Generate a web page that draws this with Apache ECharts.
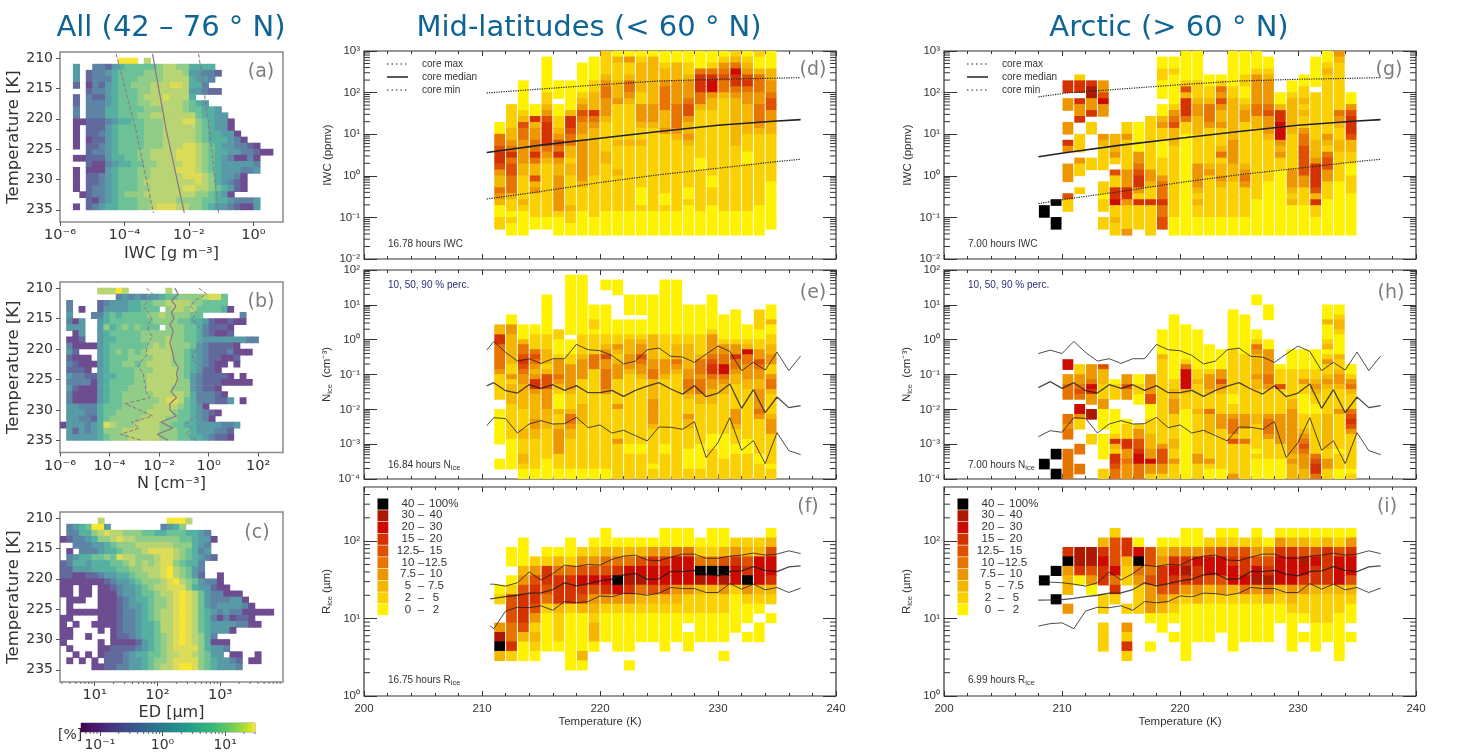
<!DOCTYPE html>
<html><head><meta charset="utf-8"><title>Ice cloud statistics</title>
<style>html,body{margin:0;padding:0;background:#fff}#c{width:1457px;height:752px}</style>
<script src="https://cdn.jsdelivr.net/npm/echarts@6/dist/echarts.min.js"></script></head>
<body><div id="c"></div>
<script>
// ---------- DATA ----------
// Cells: '.'=empty, digits = colour class, "cxN" = c repeated N times.
const allIwcRows=[
".x9 9 9 9 . 7 .x19",
"..3.. 22134 55555 67766 4444. .x8",
"..3.1 22345 55566 67776 33221 .x8",
"..3.1 22245 55666 67777 4332. .x8",
"..1.0 21345 56667 77887 442.. .x8",
"....1 22345 55667 77777 33211 .x8",
"..1.2 11345 55677 78777 4.... .x8",
"..1.2 22345 55667 77776 543.. .x8",
"..2.2 22445 55566 67776 55443 .x8",
"..2.2 22445 55667 77777 75443 3 .x7",
"..001 11234 45566 67778 86543 30 .x6",
"..0.1 11345 55566 67777 76543 30 .x6",
"..0.1 12345 55566 67777 76544 330 .x5",
"..0.0 11345 55566 67777 76544 4320 .x4",
"..0.1 12345 55566 67778 87654 332210 .x2",
"....1 22345 55667 77788 87654 43322100",
"..001 11344 55667 77788 87654 32 0 0 2 0 .x2",
"....1 00234 45566 77778 87654 333332 .x2",
"..0.0 00345 55667 77788 87654 333223 .x2",
"..0.1 12345 55667 77778 88764 3320 .x4",
"..0.1 12345 55677 77777 78764 3210 .x4",
"..0.1 22345 55667 77778 87765 4310 .x4",
"...01 22345 66677 77777 76654 30 .x6",
"....1 02345 55667 77766 66554 432223 .x2",
"..0.1 23445 55667 88877 66543 321003 .x2"];
const allNRows=[
".x6 7 7 7 9 7 .x6 7 .x18",
".x9 2 3 2 3 2 3 3 4 5 5 6 6 6 6 7 8 8 5 .x9",
". 2 .x4 1 2 3 3 3 4 4 5 5 6 6 7 7 7 7 6 6 5 5 5 5 .x9",
". 2 . 0 . . 1 3 3 3 3 4 4 5 5 5 . 6 7 7 6 7 5 5 5 5 4 0 .x8",
". 3 . . . 2 2 4 5 4 5 5 5 5 6 6 7 6 6 6 6 5 5 .x6 2 .x6",
". 2 0 3 . . 3 4 5 5 5 5 5 5 5 6 6 6 6 5 5 4 4 3 1 0 0 1 0 0 .x6",
". 3 3 3 . . 3 6 4 5 6 5 6 5 5 5 . 6 6 6 5 5 4 2 1 1 1 0 .x8",
". . 0 3 . . 3 4 5 5 5 5 5 6 6 6 6 6 6 6 5 5 4 2 1 0 0 1 .x8",
". 0 0 1 . . 3 4 4 5 5 5 5 6 6 6 6 7 6 6 5 5 4 3 3 3 3 3 3 3 2 2 .x4",
". 2 0 0 0 0 3 4 5 5 5 5 5 5 6 7 6 7 6 6 6 5 3 2 1 1 1 1 0 .x7",
". 3 1 . . . 3 4 5 6 5 6 5 6 7 7 7 7 6 6 5 4 3 2 1 1 1 2 0 0 0 .x5",
". 1 0 0 0 . 3 4 5 5 5 6 6 6 6 7 7 7 6 6 5 4 3 2 1 1 0 0 1 .x7",
". 2 1 0 0 0 3 4 5 5 6 6 5 6 7 7 7 7 6 6 5 4 3 2 1 0 0 . 0 .x7",
". 1 1 1 0 . 3 4 5 5 5 5 6 6 6 7 7 7 7 6 5 4 3 1 1 0 .x10",
". 3 2 2 1 1 3 4 4 5 5 5 6 6 7 7 7 7 7 6 5 3 2 1 1 1 1 0 . 0 .x6",
". 2 2 2 2 0 3 4 5 5 5 5 6 6 7 7 7 7 7 6 6 3 2 1 1 1 0 0 0 0 0 .x5",
". 3 1 0 0 0 3 4 5 5 5 6 6 6 7 7 7 7 6 6 6 3 2 1 1 0 .x10",
". 2 0 0 0 0 3 4 5 5 6 6 6 6 6 7 7 7 7 7 6 4 2 2 2 1 0 .x9",
". 2 0 0 0 0 3 4 5 5 6 6 6 6 6 6 7 8 8 7 5 4 2 2 2 1 1 3 . 0 .x6",
". 3 3 2 2 2 4 5 5 5 6 6 6 6 6 7 7 7 7 6 5 4 3 0 .x12",
". 3 3 3 2 2 4 5 5 6 6 6 6 6 7 7 7 7 6 5 5 4 3 2 1 0 .x10",
". 3 3 2 2 1 4 5 6 6 6 6 6 7 7 7 7 6 6 5 5 4 3 2 0 .x11",
"0 3 3 3 2 3 4 8 7 6 6 6 7 7 7 7 6 6 5 5 4 4 3 3 3 3 2 2 3 .x7",
". 3 1 3 2 3 4 6 6 6 7 7 7 7 7 7 6 6 6 5 5 4 3 3 3 2 2 1 .x8",
". 3 3 3 3 3 4 5 6 6 6 7 7 7 7 7 6 6 6 5 5 4 4 3 2 1 1 0 .x8"];
const allEdRows=[
".x6 7 .x10 9 9 9 7 .x15",
". 2 3 4 5 9 9 3 .x8 2 3 4 6 .x16",
". 2 2 4 4 6 7 8 7 7 6 6 6 5 5 4 4 5 5 5 4 4 3 2 .x12",
"0 1 2 2 3 4 6 6 7 8 7 7 6 6 6 6 6 6 6 5 5 4 3 3 0 .x11",
". . 2 2 2 3 3 4 5 6 6 6 7 7 7 7 7 7 6 6 6 4 3 2 .x12",
". 0 . 2 2 2 3 4 4 5 6 6 6 7 8 8 8 8 7 6 5 4 2 3 .x12",
". 2 3 4 4 5 5 6 5 8 7 7 6 6 6 7 8 8 7 6 5 4 3 2 1 .x11",
"1 2 4 4 3 4 4 4 5 5 6 7 6 7 6 7 8 8 6 5 4 4 2 .x13",
"1 1 3 3 3 4 4 4 4 5 5 6 6 7 7 7 8 9 7 6 5 3 2 .x13",
"1 1 0 0 1 1 2 3 3 4 4 5 6 6 7 7 8 9 7 6 5 3 1 . . 0 .x10",
"0 0 0 0 0 0 0 1 2 3 3 4 5 6 6 6 7 8 9 7 6 5 3 2 2 0 .x10",
"0 0 . 0 0 . 0 0 1 2 3 3 4 5 6 7 7 8 8 8 6 4 3 3 1 0 0 .x9",
"0 0 . 0 0 . 0 0 0 2 3 3 4 5 5 6 7 7 8 9 8 7 5 3 2 2 0 0 0 .x7",
". 0 0 0 . . 0 0 0 1 2 3 4 4 5 6 6 7 8 9 8 7 5 3 2 2 2 3 3 0 .x6",
". 0 . . . . 0 0 0 1 2 3 3 4 5 6 6 7 8 9 8 7 5 3 2 3 3 3 3 2 0 .x5",
". 0 0 0 0 0 0 0 0 1 2 2 3 4 5 6 7 7 8 9 8 7 5 4 3 2 3 2 2 0 0 0 0 0 .x2",
"0 0 . . . . 0 0 0 1 2 2 3 4 5 6 7 7 8 9 8 7 5 4 2 0 2 0 1 1 0 .x5",
"0 . 0 . . 0 0 0 0 1 2 2 3 4 4 5 7 7 8 9 8 7 5 4 3 3 3 3 2 2 0 0 .x4",
"0 0 . . . . 0 . 0 1 2 2 3 4 4 5 7 7 8 9 8 7 5 4 3 3 3 0 .x8",
"0 0 . . 0 . . . 0 1 1 2 3 4 4 5 6 7 8 9 8 7 6 4 2 .x11",
"0 . . . . . 0 . 0 0 0 0 1 3 4 5 6 7 8 9 8 7 6 4 0 0 0 .x9",
". 0 . . . . 0 0 1 1 1 1 2 3 4 5 6 7 8 8 8 8 6 4 3 3 2 .x9",
". . 0 . 0 . 0 1 1 1 2 3 4 4 5 5 6 7 7 8 8 7 6 5 3 3 . 0 0 . . 0 .x4",
". 0 . 0 . 0 . 1 1 1 2 3 3 4 5 6 6 7 8 8 8 8 6 5 4 3 3 2 1 . 0 0 .x4",
". . . . . 0 0 1 1 2 2 3 3 4 5 6 7 7 8 9 9 8 6 5 4 3 3 3 2 .x7"];

const midIwcCols=[
".x12 0 0 4 4 5 6 6 5 3 2 2 4 3 2 0 0 1 1 .",
".x9 1 1 1 1 2 2 3 4 6 4 5 5 4 4 4 2 1 1 0 1 0 0",
".x5 0 0 0 0 0 1 2 5 4 4 3 3 3 3 2 2 1 1 1 1 2 1 0 0 0 0",
".x9 0 0 6 2 3 3 4 4 6 4 2 2 5 2 3 1 1 1 1 0 0 .",
". 0x6 1 1 2 3 5 6 6 6 6 4 3 2 1x9 0 0 .",
".x5 0 0 0 . 0 0 1 1 2 3 5 4 6 3 2 2 3 3 3 3 3 3 1 0 0 0",
".x5 0x5 2 6 6 5 4 4 2 2 1 2 2 1 1 1 1 1 2 1 1 0 0",
".x2 0x5 1 2 3 5 4 3 3 2 3x7 2 1 1 1 1 0 0 0 0",
". 0 0 0 0 1 1 2 2 2 6 4 3 2x8 1x6 1 0 0 0 .",
"1 1 1 1 2 3 4 4 3 3 3 2 1x5 2 2 1x8 0 0 0 0",
"0 2 1 1 1 2 2 2 3 1x6 2 1x4 2 1x6 0 0 0 0",
"0 3 1 1 2 4 4 3 2 1x6 2 1x11 0 0 0 0",
"0 1 2 2 2 2 2 1 1 3 3 3 2 1 1 2 1x7 0 0 0 1 0 0 0 0",
"0 2x8 3 3 3 2 1x14 0 0 0 0",
"0 0 1 2 2 3 4 4 4 4 2 2 2 3 1x10 0 0 1 0 0 0 0",
"0 0 2 2 2 3 3 3 3 4 4 4 4 3 2 1x12 0x4",
"0 0 1 1 2 3 3 3 4 5 5 3 2 2 3 2 1x7 0 0 1 0x5",
"0 0 0 4 6 6 6 4 4 2 1x8 0 0 1x7 0 0 0 0",
"0 0 1 4 6 7 7 3 2 2 1x11 0 0 1 1 1 0x5",
"0 1 3 4 5 4 4 2 1x19 0 0 0 0",
"1 2 4 7 6 6 4 3 2x8 1x11 0 0 0 0",
"0 1 2 3 5 6 4 3 3 2 2 2 2 2 1 1 1 0 0 1x8 0 0 0 0",
"1 0 0 2 4 4 4 3 3 4 4 4 3 2 1x12 0x5",
"0 0 0 2 2 3 3 4 5 5 3 3 2 2 1x8 0x8 ."];
const midNiceCols=[
".x11 2 2 6 6 4 4 4 4 4 3 1 1 1 1 1 . . 0 0 0 0 0 0 0 .x3 0 0 . .",
".x9 0 0 3 3 2 2 2 2 2 2 1 1 3 1 2 2 2 2 1x7 0x6 . .",
".x11 0 0 0 2 4 4 5 6 5 4 3 3 2 2 2 2 2 1 1 1 1 2 2 1 1 1 2 2 1 0 0",
".x11 0 0 1 1 1 4 5 4 3 2 3 6 6 3 2 2 2 2 2 3 3 2 2 1x6 0 0",
".x5 0x8 1 1 1 2 2 2 1 2 5 5 5 3 3 3 3 2 2 2 2 1x6 0x4",
".x12 1 1 0 0 0 1 3 3 3 4 3 2 1 0 0 0 2 1 1 2 3 3 3 3 3 1 1 1 0 0",
". 0x12 . 0 0 0 1 1 3 3 3 3 3 2 1 1 1 2 4 4 3 2 2 1x6 0 0",
". 0x12 1 1 1 1 2 3 3 3 3 1x5 2 2 2 2 1x9 0 0",
".x7 0 0 0 1 1 0 1 1 1 1 4 4 4 1x20 0 0",
".x2 0 0 .x3 0x6 1 1 2 3 5 3 3 4 4 4 4 3 1x15 0 0",
".x2 0 0 0 .x5 0 0 0 1 1 3 2 1 2 3 3 3 1 1 1 1 1 3 1 1 1 1 1 1 3 1x7",
".x5 0 0 0 0 . 0 0 0 1 2 2 2 3 3 3 2 1x14 0 0 1x5",
".x5 0 0 0 0 . 0 0 0 1 2 3 3 5 4 3 3 2 1x13 0 0 1x5",
".x5 0x8 2x5 3 3 4 4 2 2 2 2 3x5 2 1x7 0 1 1",
".x2 0x11 1x5 3 3 3 2 1x13 0 0 1x5",
".x2 0x11 1 1 2 2 2 4 3 2 1x21",
".x7 0x6 1 1 2x5 3 3 4 4 3 2 1 1 1 3 2 2 1x4 0x4 1 1",
".x7 0x6 1x4 2 4 4 4 3 4 4 4 2 2 1x8 0 0 0 0 0 1 1",
".x5 0x7 1 3x4 4 5 6 6 4 3 3 2 2 2 1x6 0 0 0 1x6",
".x9 0x5 1 3 3 4 4 7 7 4 3 2 2 1x8 0x5 1x4",
".x8 0x6 1 3 3 6 4 4 3 2 2 1x5 3 3 3 2 1 1 1 0 0 1x5",
".x11 0 0 0 1 2 7 4 4 3 3 3 2 2 1x10 0 0 0 1x5",
".x8 1 1 1 1 0 0 1 1 3 3 5 4 3 3 2 2 3 3 3 3 4 3 1x7 0 0 1 1 1",
".x7 0 0 0 2 0 0 1 1 2 2 3 3 1 1 3 4 4 2 1 1 1 1 2 3 3 3 1x6 0 1 1"];
const midRiceCols=[
"......01..3892.","..00.015554461.",".0002356665200.","...13566531210.",
"..01665410000..","..02466621110..",".00146661000000","..1357652000020",
".013575321220..","002457631000...",".024697310000..",".024786310000.0",
".02578421000...",".03677521000...","0036775210000..","004777321000...",
"0047773110.00..",".01498211000...","001497211000...","002598311000.0.",
".1367710000....",".125693100.0...",".12777210.00...","02577621.0....."];

const arcticIwcCols=[
".x26 9 9 .x3",
".x25 9 . . 9 9 .",
".....66.33..33.63..333..511....",
"....166.6336..111.311..1.......",
".....688336.11....11...........",
".....335733...321111..11011.11.",
".x14 2 2 2 3 1 . 5 1 1 6 6 7 1 1 2 1 1",
".x12 1 1 3 1 1 1 1 1 3 3 3 6 6 3 1 1 1 1 3",
".x12 0 0 0 0 0 3 3 4 5 6 6 3 1 6 1 1 1 1 .",
".x11 1x9 3 3 2 1 1 6 1 1 1 1 1",
". 0 0 1 1 0 0 0 . 0 0 2 3 1 1 0 0 0 1 1 1 3 4 4 4 6 4 4 5 5 .",
". 0 0 1 0 0 0 0 0 1 3 4 5 2 2 2 1x12 0 0 0",
"0x5 1 5 2 6 6 6 4 1 1 0x17",
"0 0 0 0 0 1 1 1 2 3 3 2 2 2 1 1 1 1 1 3 3 3 3 2 1 2 1 1 0 0 0",
".x4 0 0 1 1 2 4 4 4 3 1x6 2 3 1x7 0 0 0",
".x4 0 1 4 3 5 3 2 2 3 1 1 1 2 4 1 2 2 3 2 1x5 0 0 0",
"0x6 1 1 2x7 3 3 3 3 2 2 2 1x6 0 0 0",
"0 0 0 0 1 1 0 0 1 2 3 3 1x7 2 3 4 3 1x5 0 0 0",
"0 0 0 1 3 3 3 3 3 4 4 2 2 1x12 0x6",
". 0 0 1 2 3 3 3 3 4 5 3 3 3 2 1x7 0x9",
".x7 0 0 2 6 6 7 7 7 3 2 3 1 1 0x11",
".x5 0 0 1 2x6 1x6 3 3 3 2 1 2 0x5",
".x4 0 0 1 1 2 1 2 1 1 3 4 4 5 5 5 5 5 3 3 1 1 1 0x5",
". 0 0 0 0 0 . 1x8 2 2 2 3 6 6 6 6 5 2 6 1 1 0 0 0",
"0 0 1 2 1x10 3 2 1 4 5 5 3 3 1 1 1 0x6",
"3 2 1x8 4 3 2 1 1 2 2 1x5 0x9",
".x7 0 0 3 5 6 6 6 5 2 2 1 1 0 0 1 1 1 0x7"];
const arcticNiceCols=[
".x38 9 9 .x2",
".x36 9 9 . . 9 9",
".x18 7 7 . 3 3 4 4 4 .x3 4 4 3 4 4 . . 4 4 4 4 4 4",
".x19 1 1 3 3 4 5 4 . 7 7 3 1 1 .x3 4 4 . . 4 4 .",
".x19 3 3 3 4 7 6 3 3 . 8 8 .x3 1 1 .x7",
".x19 5 2 2 2 1 1 1 3 3 0 0 0 0 . 0 0 0 0 0 . . 1 1",
".x22 0 1 1 1 . . 0 0 0 0 0 1 6 2 1 6 6 5 4 4",
".x21 3 3 5 3 3 .x4 0 1 1 1 6 6 3 3 4 3 3 3",
".x21 0 0 1 1 0 0 .x4 1 3 3 5 5 6 7 7 4 4 4",
".x21 3 3 3 3 5 5 0 0 0 1 1 1 2 2 2 3 3 7 3 3 1",
".x12 0x5 2 1x17 3 5 5 5 3 3 1",
".x9 0x13 1 1 2 2 3 3 3 1 1 1 1 1 2 2 1 1 3 1 1 1",
".x11 0x7 1 4 7 7 7 7 2 1 1 1 0x14",
".x12 0x8 1 1 2 1x5 2 1x8 3 3 1 1 1",
".x15 0x5 1 3 3 3 2 1 1 1 4 2 2 2 2 1x5 3 1 0 0",
".x16 0x4 3 3 5 3 2 1 1 1 1 3 3 3 1x8 0 0",
".x8 0x8 1x9 0 0 1 1 3 4 4 4 2 5 1x6 3",
".x9 0x8 1x12 3 3 3 1 1 4 1x7",
".x5 0 0 .x5 0 0 1 4 3 2 2 2 2 3 2 2 1x5 2 2 1x5 0 1 0x4",
".x7 0 0 0 .x4 0 0 3x5 4 4 3 1x5 3 4 4 4 3 1 1 1 1 0x4",
".x19 0 1 1 1 5 1x5 3x6 1 1 1 0x4",
".x16 0x4 1x6 2 2 3x9 2 3 2 2 2",
".x16 0x4 1 1 3 1 1 0x4 1 1 1 2 3 4 5 4 3 3 3 2 2",
".x16 0x4 1 1 2 3 2 1 1 0 0 1x8 4 5 6 6 4",
".x7 0 0 0 2 0 0 0 1 2 0 1 3 1 1 2 3 2 1x5 2x7 1 1 3 3 1 1",
".x7 0 0 1 2 2 1 0 0 0 0 2 1 1 2 3 3 2 1 1 1 1 3 1x7 0 1 1 1 0 0",
".x19 0 0 1 3 4 2 1 1 1 4 5 6 5 3 1x7 0 1"];
const arcticRiceCols=[
".....9.........","....9..9.......","..69322.3......","..8860.........",
"..88530........",".26766.11.111..","15557461.......",".66211..1.3161.",
".07943111......","..55453330..0..",".0236653200....",".036765210.0...",
"00368631000000.","003766320000...",".14775210000...","01577531000....",
"0156772100000..",".15667410000...","013578310000...",".03568420000...",
"0367772100.....","0267773210000..","0258763110.0...","0157662111000..",
"026666211100...","01577721100000.","0367752100.0..."];

const lineT=[208,209,210,211,212,213,214,215,216,217,218,219,220,221,222,223,224,225,226,227,228,229,230,231,232,233,234,235,236,237];
const nice90=[0.40,0.50,0.40,0.89,0.43,0.243,0.284,0.208,0.284,0.284,0.73,0.514,0.482,0.354,0.20,0.243,0.514,0.574,0.331,0.317,0.223,0.386,0.655,0.46,0.129,0.223,0.134,0.44,0.129,0.339];
const nice50=[.0418,.0622,.04,.0582,.0343,.0294,.0509,.04,.0509,.0351,.0478,.03,.03,.0351,.0236,.0351,.0467,.0582,.0383,.0275,.0478,.0231,.0294,.0533,.0107,.0366,.008,.0226,.0112,.0127];
const nice10=[.00164,.00244,.00219,.00577,.0054,.00209,.00379,.00473,.00379,.00388,.0059,.00298,.00356,.00209,.0025,.00176,.00124,.00311,.00305,.00267,.00443,.000411,.00111,.00577,.000667,.00126,.000277,.00214,.000653,.000501];
const rice90=[30,29.5,29,27.8,26.2,29,40,31.5,38,49,47,50,49,58,64,66,57,56,62,68,68,60,60,64,66,70,66,68,75,69];
const rice50=[17.3,17.4,17.6,18.2,19.2,20,21.3,21.5,23.7,29,26.4,28.3,30.7,32.2,36.7,38.2,32.2,32.6,40.5,40.5,42,37.5,35.6,40.5,41.4,47,42,40.5,46.5,48];
const rice10=[8.0,8.6,8.8,7.4,12.5,14,13.8,14.6,12.8,16.6,16,16.6,19.6,19.1,21.3,21,20,21.3,25.2,24.4,24.4,21.7,21.7,28.3,24,27.8,23.5,25.2,21.7,24.7];
const coreT=[208,210.4,215,220,225,230,235,237];
const coreMax=[79,98,122,155,190,209,222,229];
const coreMedian=[2.87,3.64,5.46,8.0,11.6,16.4,20.8,22.4];
const coreMin=[0.214,0.277,0.42,0.69,1.06,1.52,2.2,2.5];
const allIwcT=[209.3,222,235.5];
const allIwcLow=[5.5e-5,2.3e-4,7.9e-4];
const allIwcMid=[7.4e-4,2.0e-3,7.2e-3];
const allIwcHigh=[2e-2,4.4e-2,8.3e-2];
const allNT=[210,211,212,213,214,215,216,217,218,219,220,221,222,223,224,225,226,227,228,229,230,231,232,233,234,235];
const allNLow=[.00313,.00546,.00365,.00229,.00365,.00497,.00365,.00365,.00546,.00365,.00313,.00313,.00196,.00144,.00229,.00244,.00285,.00285,.00426,.000418,.00158,.00546,.000776,.00158,.000279,.00196];
const allNMid=[.0434,.0592,.0318,.0475,.0318,.0395,.0272,.0372,.0318,.0272,.0318,.0372,.0407,.0592,.0506,.0555,.0434,.0299,.0506,.0272,.0272,.0506,.0118,.0349,.0084,.0233];
const allNHigh=[.403,.82,.278,.186,.324,.223,.324,.515,.66,.378,.324,.223,.238,.60,.515,.324,.305,.345,.484,.324,.703,.324,.128,.186,.128,.324];
const legendLow=["40","30","20","15","12.5","10","7.5","5","2","0"];
const legendHigh=["100%","40","30","20","15","12.5","10","7.5","5","2"];
const viridis=['#6d4c90','#62699c','#5d84a5','#589ba6','#55b0a1','#6cc197','#92cd87','#b8d473','#dcdc58','#f9e632'];
const heat=['#fff200','#fbd000','#f5b600','#ee9600','#e87400','#de5000','#d63200','#cc0a00','#ae1800','#000000'];

// ---------- HELPERS ----------
const expand=s=>s.replace(/(\S)x(\d+)/g,(m,c,n)=>c.repeat(+n)).replace(/\s/g,'');
const sup=v=>{const e=Math.round(Math.log10(v));const m={'-':'⁻','0':'⁰','1':'¹','2':'²','3':'³','4':'⁴','5':'⁵','6':'⁶','7':'⁷','8':'⁸','9':'⁹'};
  return '10'+String(e).split('').map(c=>m[c]).join('');};
const grids=[],xAxes=[],yAxes=[],series=[],graphics=[];
const G=(l,t,w,h,c,bw)=>{grids.push({left:l,top:t,width:w,height:h,show:true,borderColor:c,borderWidth:bw,containLabel:false});return grids.length-1;};
function rectSeries(gi,pal,data,gap){
  series.push({type:'custom',coordinateSystem:'cartesian2d',xAxisIndex:gi.x,yAxisIndex:gi.y,clip:true,silent:true,z:2,
    encode:{x:[0,1],y:[2,3]},data,animation:false,
    renderItem:(p,api)=>{const a=api.coord([api.value(0),api.value(2)]),b=api.coord([api.value(1),api.value(3)]);
      const x=Math.min(a[0],b[0]),y=Math.min(a[1],b[1]),w=Math.abs(a[0]-b[0]),h=Math.abs(a[1]-b[1]);
      return {type:'rect',shape:{x:x+gap/2,y:y-0.35,width:w-gap+(gap?0:0.7),height:h+0.7},style:{fill:pal[api.value(4)]}};}});
}
function lineS(gi,xs,ys,type,width,color){
  series.push({type:'line',xAxisIndex:gi.x,yAxisIndex:gi.y,data:xs.map((x,i)=>[x,ys[i]]),showSymbol:false,symbol:'none',silent:true,z:5,animation:false,
    lineStyle:{type,width,color}});
}
function minorTicks(gi,vals,horizontal,ax0,ax1,len,color){
  series.push({type:'custom',coordinateSystem:'cartesian2d',xAxisIndex:gi.x,yAxisIndex:gi.y,clip:false,silent:true,z:6,animation:false,
    encode:horizontal?{y:0}:{x:0},data:vals.map(v=>[v]),
    renderItem:(p,api)=>{const v=api.value(0),cs=p.coordSys,els=[];
      const add=(x1,y1,x2,y2)=>els.push({type:'line',shape:{x1,y1,x2,y2},style:{stroke:color,lineWidth:1}});
      if(horizontal){const y=api.coord([ax0,v])[1];add(cs.x,y,cs.x+len,y);add(cs.x+cs.width,y,cs.x+cs.width-len,y);}
      else{const x=api.coord([v,ax0])[0];add(x,cs.y+cs.height,x,cs.y+cs.height+len);}
      return {type:'group',children:els};}});
}
const decadeMinors=(lo,hi)=>{const o=[];for(let e=lo;e<hi;e++)for(let m=2;m<10;m++)o.push(m*Math.pow(10,e));return o;};

// ---------- LEFT COLUMN ----------
const tempTicks=[210,215,220,225,230,235];
const leftFont='"DejaVu Sans"';
function leftPanel(top,h,xmin,xmax,xticks,xname,gap){
  const g=G(60,top,223,h,'#8a8a8a',1.5);
  xAxes.push({gridIndex:g,type:'log',logBase:10,min:xmin,max:xmax,position:'bottom',name:xname,nameLocation:'middle',nameGap:gap,
    nameTextStyle:{fontFamily:leftFont,fontSize:16,color:'#333'},splitLine:{show:false},axisLine:{show:false},
    axisTick:{show:true,length:4,lineStyle:{color:'#555'},customValues:xticks},
    axisLabel:{fontFamily:leftFont,fontSize:14.5,color:'#333',margin:6,formatter:sup,customValues:xticks,showMinLabel:true,showMaxLabel:true,hideOverlap:false}});
  yAxes.push({gridIndex:g,type:'value',inverse:true,min:209,max:237,name:'Temperature [K]',nameLocation:'middle',nameGap:37,
    nameTextStyle:{fontFamily:leftFont,fontSize:16.5,color:'#333'},splitLine:{show:false},axisLine:{show:false},
    axisTick:{show:true,length:4,lineStyle:{color:'#555'},customValues:tempTicks},
    axisLabel:{fontFamily:leftFont,fontSize:14,color:'#333',margin:7,customValues:tempTicks}});
  return {x:xAxes.length-1,y:yAxes.length-1};
}
function leftCells(rows,l0,dl){
  const out=[];rows.forEach((r,ri)=>{const s=expand(r);for(let i=0;i<s.length;i++){if(s[i]==='.')continue;
    out.push([Math.pow(10,l0+dl*i),Math.pow(10,l0+dl*(i+1)),210+ri,211+ri,+s[i]]);}});return out;
}
const lc='#8c7482';
const ga=leftPanel(52,170,1e-6,8.3,[1e-6,1e-4,1e-2,1],'IWC [g m⁻³]',24);
rectSeries(ga,viridis,leftCells(allIwcRows,-6,0.2),0);
lineS(ga,allIwcLow,allIwcT,'dashed',1,lc);lineS(ga,allIwcMid,allIwcT,'solid',1.2,lc);lineS(ga,allIwcHigh,allIwcT,'dashed',1,lc);
const gb=leftPanel(282,170.5,1e-6,1e3,[1e-6,1e-4,1e-2,1,100],'N [cm⁻³]',23);
rectSeries(gb,viridis,leftCells(allNRows,-6,0.25),0);
lineS(gb,allNLow,allNT,'dashed',1,lc);lineS(gb,allNMid,allNT,'solid',1.2,lc);lineS(gb,allNHigh,allNT,'dashed',1,lc);
const gc=leftPanel(512,170,2.8,10000,[10,100,1000],'ED [µm]',23);
rectSeries(gc,viridis,leftCells(allEdRows,Math.log10(2.8),0.1),0);
minorTicks(gc,[3,4,5,6,7,8,9,20,30,40,50,60,70,80,90,200,300,400,500,600,700,800,900,2000,3000,4000,5000,6000,7000,8000,9000],false,210,0,2,'#666');

// colour bar
{const g=G(81,723,174,9,'#555',0.6);
 xAxes.push({gridIndex:g,type:'log',logBase:10,min:0.05,max:30,splitLine:{show:false},axisLine:{show:false},
   axisTick:{show:true,length:4,lineStyle:{color:'#555'},customValues:[0.1,1,10]},
   axisLabel:{fontFamily:leftFont,fontSize:14,color:'#333',margin:6,formatter:sup,customValues:[0.1,1,10]}});
 yAxes.push({gridIndex:g,type:'value',min:0,max:1,show:false});
 const gi={x:xAxes.length-1,y:yAxes.length-1};
 series.push({type:'custom',coordinateSystem:'cartesian2d',xAxisIndex:gi.x,yAxisIndex:gi.y,silent:true,animation:false,z:2,
   encode:{x:[0,1],y:[2,3]},data:[[0.05,30,0,1]],
   renderItem:(p,api)=>{const a=api.coord([api.value(0),api.value(2)]),b=api.coord([api.value(1),api.value(3)]);
     return {type:'rect',shape:{x:a[0],y:b[1],width:b[0]-a[0],height:a[1]-b[1]},
       style:{fill:new echarts.graphic.LinearGradient(0,0,1,0,[
        {offset:0,color:'#440154'},{offset:.13,color:'#482878'},{offset:.25,color:'#3e4989'},{offset:.38,color:'#31688e'},
        {offset:.5,color:'#26828e'},{offset:.62,color:'#1f9e89'},{offset:.75,color:'#35b779'},{offset:.87,color:'#6ece58'},{offset:.95,color:'#b5de2b'},{offset:1,color:'#fde725'}])}};}});
 minorTicks(gi,[.06,.07,.08,.09,.2,.3,.4,.5,.6,.7,.8,.9,2,3,4,5,6,7,8,9,20,30],false,0,0,2,'#666');
}

// ---------- MIDDLE & RIGHT COLUMNS ----------
const idl='"Liberation Sans"';
function idlPanel(left,top,h,ymin,ymax,yticks,yname,showX,minors){
  const g=G(left,top,472,h,'#333',1.2);
  const base={gridIndex:g,type:'value',min:200,max:240,interval:10,splitLine:{show:false},axisLine:{show:false},
    axisTick:{show:true,inside:true,length:5,lineStyle:{color:'#333'}},minorTick:{show:true,splitNumber:5,length:3,lineStyle:{color:'#333'}}};
  xAxes.push(Object.assign({},base,{position:'bottom',axisLabel:{show:showX,fontFamily:idl,fontSize:11.5,color:'#333',margin:7},
    name:showX?'Temperature (K)':'',nameLocation:'middle',nameGap:20,nameTextStyle:{fontFamily:idl,fontSize:11.5,color:'#333'}}));
  const xi=xAxes.length-1;
  xAxes.push(Object.assign({},base,{position:'top',axisLabel:{show:false}}));
  const ybase={gridIndex:g,type:'log',logBase:10,min:ymin,max:ymax,splitLine:{show:false},axisLine:{show:false},
    axisTick:{show:true,inside:true,length:13,lineStyle:{color:'#333'},customValues:yticks}};
  yAxes.push(Object.assign({},ybase,{position:'left',name:yname,nameLocation:'middle',nameGap:30,nameRotate:90,
    nameTextStyle:{fontFamily:idl,fontSize:11.5,color:'#333',rich:{s:{fontFamily:idl,fontSize:7.5,color:'#333',padding:[6,0,0,0]}}},
    axisLabel:{fontFamily:idl,fontSize:11.5,color:'#333',margin:4,formatter:sup,customValues:yticks}}));
  const yi=yAxes.length-1;
  yAxes.push(Object.assign({},ybase,{position:'right',axisLabel:{show:false}}));
  const gi={x:xi,y:yi};
  minorTicks(gi,minors,true,200,0,6,'#333');
  return gi;
}
function colCells(cols,t0,l0,dl){
  const out=[];cols.forEach((c,ci)=>{const s=expand(c);for(let n=0;n<s.length;n++){if(s[n]==='.')continue;
    out.push([t0+ci,t0+ci+1,Math.pow(10,l0-dl*n),Math.pow(10,l0-dl*(n+1)),+s[n]]);}});return out;
}
function drawPerc(gi,t,a,b,c,start){
  const mk=(arr,s)=>{const xs=[],ys=[];if(s!=null){xs.push(start);ys.push(s);}
    arr.forEach((v,i)=>{if(s==null||lineT[i]>=211){xs.push(lineT[i]);ys.push(v);}});return [xs,ys];};
  [[a,0],[b,1],[c,2]].forEach(([arr,i])=>{const [xs,ys]=mk(arr,t?t[i]:null);lineS(gi,xs,ys,'solid',i===1?1.3:1,'rgba(25,25,25,.78)');});
}
function coreLines(gi,mid){
  const xs=mid?coreT.slice(1):coreT;const cut=a=>mid?a.slice(1):a;
  lineS(gi,xs,cut(coreMax),'dotted',1.2,'#222');lineS(gi,xs,cut(coreMedian),'solid',1.6,'#222');lineS(gi,xs,cut(coreMin),'dotted',1.2,'#222');
}
const iwcTicks=[1e-2,1e-1,1,10,100,1000],nTicks=[1e-4,1e-3,1e-2,1e-1,1,10,100],rTicks=[1,10,100];
const iwcName='IWC (ppmv)',nName='N{s|ice}  (cm⁻³)',rName='R{s|ice} (µm)';
const midStartN=[0.5,0.047,0.0034],midStartR=[27.8,18,8.0];
[[364,midIwcCols,midNiceCols,midRiceCols,211,true],[944,arcticIwcCols,arcticNiceCols,arcticRiceCols,208,false]].forEach(([L,ci,cn,cr,t0,mid])=>{
  const gd=idlPanel(L,51,208,1e-2,1e3,iwcTicks,iwcName,false,decadeMinors(-2,3));
  rectSeries(gd,heat,colCells(ci,t0,3,1/7),1);coreLines(gd,mid);
  const ge=idlPanel(L,270,209,1e-4,1e2,nTicks,nName,false,decadeMinors(-4,2));
  rectSeries(ge,heat,colCells(cn,t0,2,1/7),1);
  drawPerc(ge,mid?midStartN:null,nice90,nice50,nice10,210.4);
  const gf=idlPanel(L,487,209,1,500,rTicks,rName,true,decadeMinors(0,2).concat([200,300,400]));
  rectSeries(gf,heat,colCells(cr,t0,2.164,0.122),1);
  drawPerc(gf,mid?midStartR:null,rice90,rice50,rice10,210.7);
});

// ---------- TEXT / LEGENDS ----------
const T=(x,y,text,o)=>graphics.push(Object.assign({type:'text',x,y,silent:true,z:50,style:Object.assign({text,fontFamily:idl,fontSize:11,fill:'#333',verticalAlign:'middle',align:'left'},o||{})}));
const titleStyle={fontFamily:'"DejaVu Sans"',fontSize:29,fill:'#0f6496',align:'center'};
T(171,28,'All (42 – 76 ° N)',titleStyle);
T(589,28,'Mid-latitudes (< 60 ° N)',titleStyle);
T(1169,28,'Arctic (> 60 ° N)',titleStyle);
const letter={fontFamily:'"DejaVu Sans"',fontSize:19,fill:'#7d7d7d',align:'center'};
[[261,72,'(a)'],[261,302,'(b)'],[257,533,'(c)'],[813,70,'(d)'],[813,293,'(e)'],[808,507,'(f)'],[1389,70,'(g)'],[1391,293,'(h)'],[1387,507,'(i)']].forEach(a=>T(a[0],a[1],a[2],letter));
T(58,735,'[%]',{fontFamily:leftFont,fontSize:14,fill:'#333',align:'left'});
const subRich={s:{fontFamily:idl,fontSize:7.5,fill:'#333',padding:[5,0,0,0]}};
[[0,['16.78','16.84','16.75']],[580,['7.00','7.00','6.99']]].forEach(([dx,h])=>{
  T(388+dx,244,h[0]+' hours IWC',{fontSize:10});
  T(388+dx,285,'10, 50, 90 % perc.',{fontSize:10,fill:'#2d2d78'});
  T(388+dx,465,h[1]+' hours N{s|ice}',{fontSize:10,rich:subRich});
  T(388+dx,680,h[2]+' hours R{s|ice}',{fontSize:10,rich:subRich});
  [['core max',64,1],['core median',77,0],['core min',90,1]].forEach(([t,y,dot])=>{
    T(422+dx,y,t,{fontSize:10});
    graphics.push({type:'line',silent:true,z:50,shape:{x1:387+dx,y1:y,x2:408+dx,y2:y},style:{stroke:'#222',lineWidth:dot?1.1:1.5,lineDash:dot?[1.5,3]:null}});
  });
  legendLow.forEach((lo,i)=>{
    const y=503.4+i*11.8;
    graphics.push({type:'rect',silent:true,z:50,shape:{x:377.5+dx,y:498.5+i*11.73,width:10.8,height:11.1},style:{fill:heat[9-i]}});
    T(408+dx,y,lo,{align:'center',fontSize:11.5});
    T(421+dx,y,'–',{align:'center',fontSize:11.5});
    if(i===0)T(429+dx,y,legendHigh[i],{align:'left',fontSize:11.5});
    else T(436+dx,y,legendHigh[i],{align:'center',fontSize:11.5});
  });
});

const chart=echarts.init(document.getElementById('c'),null,{renderer:'canvas',width:1457,height:752});
chart.setOption({animation:false,backgroundColor:'#fff',grid:grids,xAxis:xAxes,yAxis:yAxes,series,graphic:{elements:graphics}});
</script></body></html>
